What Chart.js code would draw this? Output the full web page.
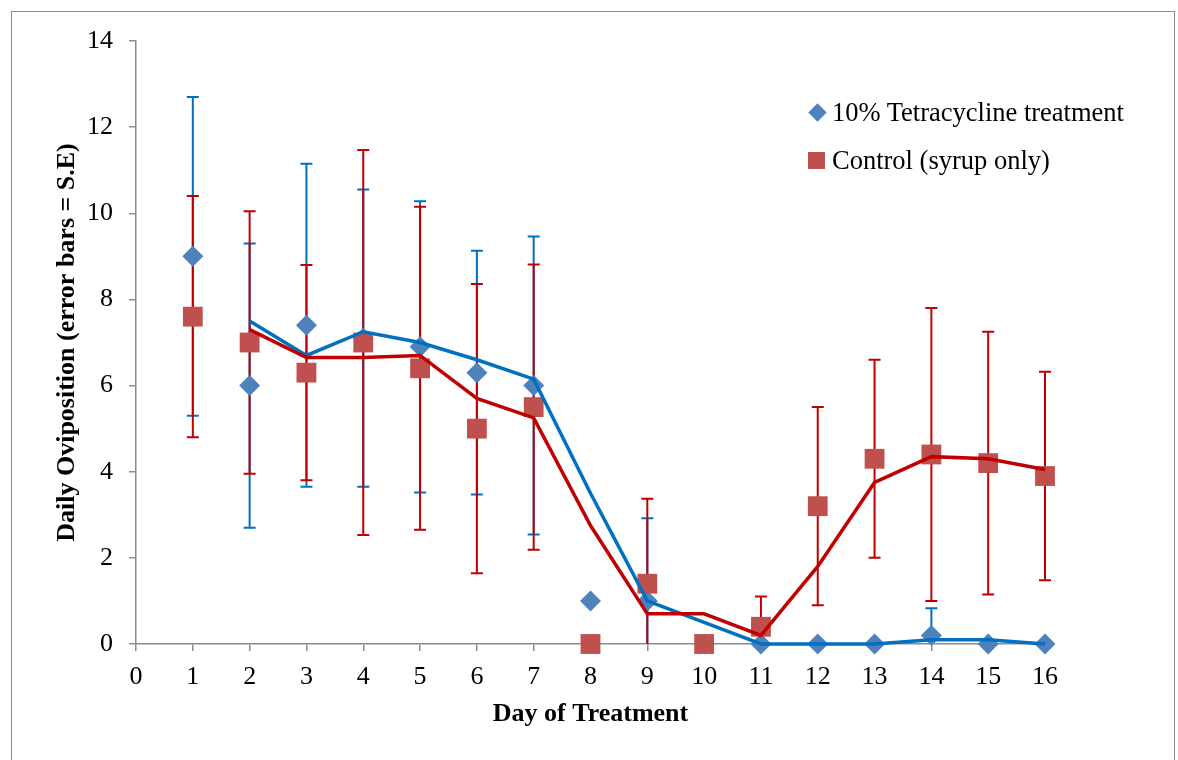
<!DOCTYPE html>
<html>
<head>
<meta charset="utf-8">
<script src="https://cdn.jsdelivr.net/npm/chart.js@4.4.1/dist/chart.umd.min.js"></script>
<style>
  html, body { margin: 0; padding: 0; background: #fff; overflow: hidden; }
  #wrap { position: relative; width: 1178px; height: 760px; }
  #frame { position: absolute; left: 11px; top: 11px; width: 1164px; height: 800px; border: 1.5px solid #8c8c8c; box-sizing: border-box; }
  #chart { position: absolute; left: 0; top: 0; }
  .legend { position: absolute; left: 808px; font-family: 'Liberation Serif', 'Times New Roman', serif; font-size: 26.5px; color: #000; line-height: 30px; white-space: pre; }
  .legend .mk { position: absolute; left: 0; }
  .legend .txt { position: absolute; left: 24px; top: 0; }
  .diamond { width: 13px; height: 13px; background: #4F81BD; transform: rotate(45deg); top: 9px; left: 3px !important; }
  .square { width: 17px; height: 17px; background: #C0504D; top: 7px; }
</style>
</head>
<body>
<div id="wrap">
  <div id="frame"></div>
  <canvas id="chart" width="1178" height="760"></canvas>
  <div class="legend" style="top:97px"><span class="mk diamond"></span><span class="txt">10% Tetracycline treatment</span></div>
  <div class="legend" style="top:145px"><span class="mk square"></span><span class="txt">Control (syrup only)</span></div>
</div>
<script>
/* Daily oviposition: tetracycline vs control, means with S.E bars
   and 2-point moving-average trend lines */

const days         = [1, 2, 3, 4, 5, 6, 7, 8, 9, 10, 11, 12, 13, 14, 15, 16];
const tetraMean    = [9.0, 6.0, 7.4, 7.1, 6.9, 6.3, 6.0, 1.0, 1.0, 0, 0, 0, 0, 0.2, 0, 0];
const tetraSE      = [3.7, 3.3, 3.75, 3.45, 3.38, 2.83, 3.46, 0, 1.92, 0, 0, 0, 0, 0.63, 0, 0];
const controlMean  = [7.6, 7.0, 6.3, 7.0, 6.4, 5.0, 5.5, 0, 1.4, 0, 0.4, 3.2, 4.3, 4.4, 4.2, 3.9];
const controlSE    = [2.8, 3.05, 2.5, 4.47, 3.75, 3.36, 3.31, 0, 1.97, 0, 0.7, 2.3, 2.3, 3.4, 3.05, 2.42];

const trendDays    = [2, 3, 4, 5, 6, 7, 8, 9, 10, 11, 12, 13, 14, 15, 16];
const tetraTrend   = [7.5, 6.7, 7.25, 7.0, 6.6, 6.15, 3.5, 1.0, 0.5, 0, 0, 0, 0.1, 0.1, 0];
const controlTrend = [7.3, 6.65, 6.65, 6.7, 5.7, 5.25, 2.75, 0.7, 0.7, 0.2, 1.8, 3.75, 4.35, 4.3, 4.05];

const xTicks = [0, 1, 2, 3, 4, 5, 6, 7, 8, 9, 10, 11, 12, 13, 14, 15, 16];
const yTicks = [0, 2, 4, 6, 8, 10, 12, 14];

const BLUE = '#0070C0', RED = '#C00000';
const FONT = "'Liberation Serif', 'Times New Roman', serif";
const AXIS = '#8c8c8c';

const pts = (xs, ys) => xs.map((x, i) => ({ x, y: ys[i] }));

// error bars drawn under the markers, via the chart's own scales
const errorBars = {
  id: 'errorBars',
  beforeDatasetsDraw(chart) {
    const { ctx, scales: { x, y } } = chart;
    const groups = [
      { mean: tetraMean, se: tetraSE, color: BLUE },
      { mean: controlMean, se: controlSE, color: RED },
    ];
    ctx.save();
    groups.forEach(g => {
      ctx.strokeStyle = g.color;
      ctx.lineWidth = 2;
      days.forEach((d, i) => {
        if (!g.se[i]) return;
        const px = x.getPixelForValue(d);
        const lo = g.mean[i] - g.se[i], hi = g.mean[i] + g.se[i];
        const pLo = y.getPixelForValue(Math.max(lo, 0));
        const pHi = y.getPixelForValue(hi);
        ctx.beginPath();
        ctx.moveTo(px, pLo); ctx.lineTo(px, pHi);
        ctx.moveTo(px - 6, pHi); ctx.lineTo(px + 6, pHi);
        if (lo >= 0) { ctx.moveTo(px - 6, pLo); ctx.lineTo(px + 6, pLo); }
        ctx.stroke();
      });
    });
    ctx.restore();
  }
};

new Chart(document.getElementById('chart'), {
  type: 'scatter',
  data: {
    datasets: [
      { label: 'Control trend', data: pts(trendDays, controlTrend), showLine: true, borderColor: RED,
        borderWidth: 3.5, pointRadius: 0, fill: false, clip: false, order: 0 },
      { label: 'Tetracycline trend', data: pts(trendDays, tetraTrend), showLine: true, borderColor: BLUE,
        borderWidth: 3.5, pointRadius: 0, fill: false, clip: false, order: 1 },
      { label: 'Control (syrup only)', data: pts(days, controlMean), pointStyle: 'rect', pointRadius: 14,
        backgroundColor: '#C0504D', borderWidth: 0, clip: false, order: 2 },
      { label: '10% Tetracycline treatment', data: pts(days, tetraMean), pointStyle: 'rectRot', pointRadius: 10.5,
        backgroundColor: '#4F81BD', borderWidth: 0, clip: false, order: 3 },
    ]
  },
  options: {
    responsive: false,
    animation: false,
    devicePixelRatio: 1,
    layout: { padding: { left: 0, top: 41, right: 133, bottom: 0 } },
    plugins: { legend: { display: false }, tooltip: { enabled: false } },
    scales: {
      x: {
        type: 'linear', min: 0, max: 16,
        afterFit: s => { s.height = 116; },
        afterBuildTicks: s => { s.ticks = xTicks.map(v => ({ value: v })); },
        ticks: { color: '#000', font: { family: FONT, size: 26 }, padding: 11, maxRotation: 0 },
        grid: { drawOnChartArea: false, drawTicks: true, tickLength: 7, color: AXIS, lineWidth: 1.5 },
        border: { display: true, color: AXIS, width: 1.5 },
        title: { display: true, text: 'Day of Treatment', color: '#000',
                 font: { family: FONT, size: 26, weight: 'bold' }, padding: { top: 0, bottom: 30 } }
      },
      y: {
        type: 'linear', min: 0, max: 14,
        afterFit: s => { s.width = 136; },
        afterBuildTicks: s => { s.ticks = yTicks.map(v => ({ value: v })); },
        ticks: { color: '#000', font: { family: FONT, size: 26 }, padding: 16 },
        grid: { drawOnChartArea: false, drawTicks: true, tickLength: 7, color: AXIS, lineWidth: 1.5 },
        border: { display: true, color: AXIS, width: 1.5 },
        title: { display: true, text: 'Daily Oviposition (error bars = S.E)', color: '#000',
                 font: { family: FONT, size: 26, weight: 'bold' }, padding: { top: 52, bottom: 0 } }
      }
    }
  },
  plugins: [errorBars]
});
</script>
</body>
</html>
